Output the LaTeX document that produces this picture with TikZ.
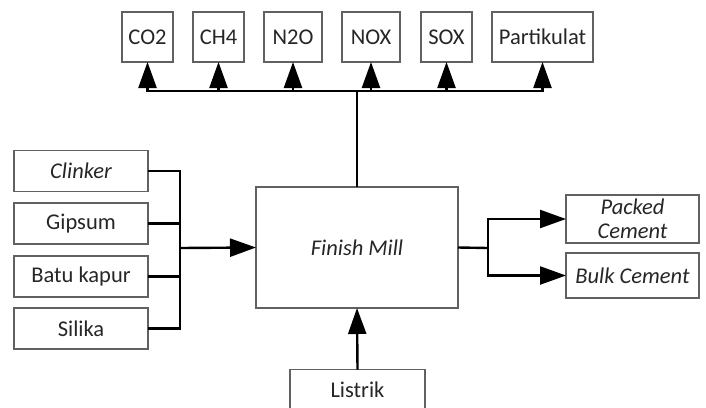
\documentclass[tikz,border=0pt]{standalone}
\usepackage{fontspec}
\setmainfont{Carlito}
\usetikzlibrary{arrows.meta}

\begin{document}
\begin{tikzpicture}[x=1pt,y=-1pt,
  every node/.style={draw=black!62, line width=1.2pt, inner sep=0pt, outer sep=0pt, text=black!85, font=\fontsize{22.5}{25}\selectfont},
  link/.style={line width=2.4pt},
  arr/.style={link, -{Triangle[length=26pt,width=18pt]}}]
\useasboundingbox (0,0) rectangle (706,407);
\clip (0,0) rectangle (706,407);
% emissions
\node[minimum width=51, minimum height=50] (co2) at (147.5,37) {CO2};
\node[minimum width=51, minimum height=50] (ch4) at (218.5,37) {CH4};
\node[minimum width=58, minimum height=50] (n2o) at (293,37) {N2O};
\node[minimum width=58, minimum height=50] (nox) at (371,37) {NOX};
\node[minimum width=51, minimum height=50] (sox) at (446.5,37) {SOX};
\node[minimum width=101, minimum height=50] (part) at (542.5,37) {Partikulat};
% inputs
\node[minimum width=134, minimum height=41] (clinker) at (81,171) {\itshape Clinker};
\node[minimum width=134, minimum height=41] (gipsum) at (81,223.5) {Gipsum};
\node[minimum width=134, minimum height=41] (batu) at (81,276.5) {Batu kapur};
\node[minimum width=134, minimum height=41] (silika) at (81,328.5) {Silika};
% process
\node[minimum width=202, minimum height=121] (mill) at (357,247.5) {\itshape Finish Mill};
\node[minimum width=135, minimum height=41] (listrik) at (357.5,390) {Listrik};
% products
\node[minimum width=133, minimum height=48, align=center, font=\fontsize{22.5}{24}\selectfont\itshape] (packed) at (632.5,219) {Packed\\Cement};
\node[minimum width=133, minimum height=45, font=\fontsize{22.5}{25}\selectfont\itshape] (bulk) at (632.5,275.5) {Bulk Cement};
\coordinate (inj) at (180,248);
\coordinate (emj) at (357,91);
\coordinate (outj) at (488,248);
% connectors
\foreach \src in {clinker,gipsum,batu,silika}
  \draw[link] (\src.east) -| (inj);
\draw[arr] (inj) -- (mill.west);
\draw[link] (mill.north) -- (emj);
\foreach \dst in {co2,ch4,n2o,nox,sox,part}
  \draw[arr] (emj) -| (\dst.south);
\draw[link] (mill.east) -- (outj);
\draw[arr] (outj) |- (packed.west);
\draw[arr] (outj) |- (bulk.west);
\draw[arr] (listrik.north) -- (mill.south);
\end{tikzpicture}
\end{document}
